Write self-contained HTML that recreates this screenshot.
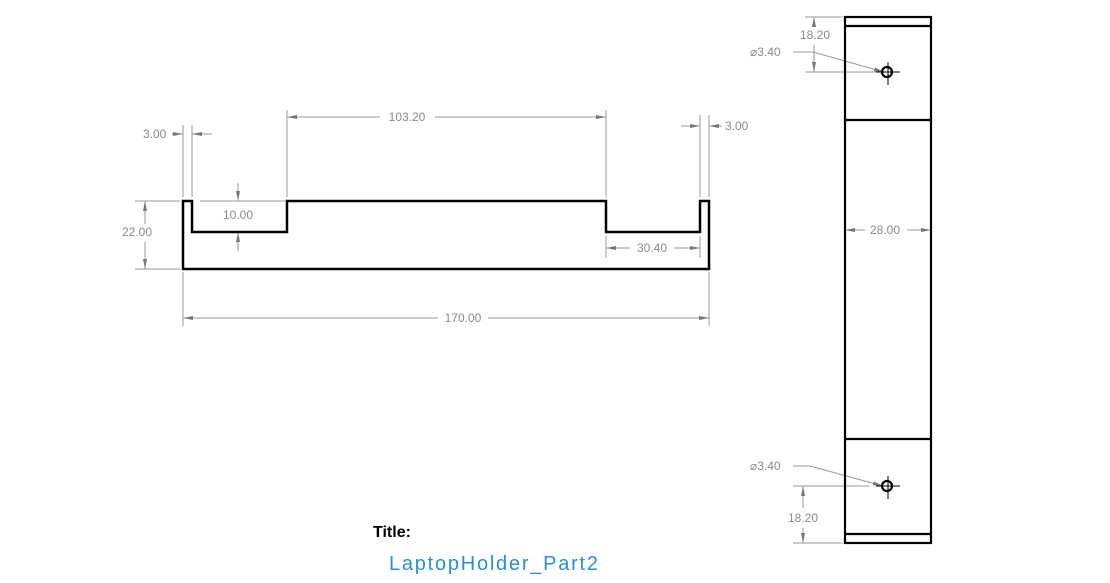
<!DOCTYPE html>
<html><head><meta charset="utf-8"><style>
html,body{margin:0;padding:0;background:#fff;width:1110px;height:583px;overflow:hidden}
svg text{font-family:"Liberation Sans",sans-serif;fill:#8a8a8a;font-size:12px}
</style></head><body>
<svg width="1110" height="583" viewBox="0 0 1110 583" xmlns="http://www.w3.org/2000/svg">
<defs>
<marker id="a" viewBox="0 0 10 6" refX="10" refY="3" markerWidth="10" markerHeight="6" orient="auto" markerUnits="userSpaceOnUse">
<path d="M0,1 L10,3 L0,5 Z" fill="#777"/></marker>
</defs>
<g stroke="#999" stroke-width="1" fill="none">
<!-- 3.00 left -->
<line x1="183" y1="125" x2="183" y2="197"/><line x1="192" y1="125" x2="192" y2="197"/>
<line x1="172" y1="134" x2="183" y2="134" marker-end="url(#a)"/>
<line x1="212" y1="134" x2="192" y2="134" marker-end="url(#a)"/>
<!-- 103.20 -->
<line x1="287" y1="110" x2="287" y2="197"/><line x1="606" y1="110" x2="606" y2="197"/>
<line x1="380" y1="117" x2="287" y2="117" marker-end="url(#a)"/>
<line x1="435" y1="117" x2="606" y2="117" marker-end="url(#a)"/>
<!-- 3.00 right -->
<line x1="700" y1="115" x2="700" y2="197"/><line x1="709" y1="115" x2="709" y2="197"/>
<line x1="681" y1="126" x2="700" y2="126" marker-end="url(#a)"/>
<line x1="722" y1="126" x2="709" y2="126" marker-end="url(#a)"/>
<!-- 10.00 -->
<line x1="200" y1="201" x2="285" y2="201"/>
<line x1="238" y1="183" x2="238" y2="201" marker-end="url(#a)"/>
<line x1="238" y1="251" x2="238" y2="232" marker-end="url(#a)"/>
<!-- 22.00 -->
<line x1="135" y1="201" x2="180" y2="201"/><line x1="135" y1="269" x2="180" y2="269"/>
<line x1="145" y1="224" x2="145" y2="201" marker-end="url(#a)"/>
<line x1="145" y1="242" x2="145" y2="269" marker-end="url(#a)"/>
<!-- 30.40 -->
<line x1="606" y1="236" x2="606" y2="258"/><line x1="700" y1="236" x2="700" y2="258"/>
<line x1="630" y1="248" x2="606" y2="248" marker-end="url(#a)"/>
<line x1="674" y1="248" x2="700" y2="248" marker-end="url(#a)"/>
<!-- 170.00 -->
<line x1="183" y1="272" x2="183" y2="326"/><line x1="709" y1="272" x2="709" y2="326"/>
<line x1="438" y1="318" x2="183" y2="318" marker-end="url(#a)"/>
<line x1="488" y1="318" x2="709" y2="318" marker-end="url(#a)"/>
<!-- 28.00 -->
<line x1="865" y1="230" x2="845" y2="230" marker-end="url(#a)"/>
<line x1="907" y1="230" x2="931" y2="230" marker-end="url(#a)"/>
<!-- 18.20 top -->
<line x1="805" y1="17" x2="843" y2="17"/><line x1="805" y1="72" x2="880" y2="72"/>
<line x1="814" y1="27" x2="814" y2="17" marker-end="url(#a)"/>
<line x1="814" y1="45" x2="814" y2="72" marker-end="url(#a)"/>
<polyline points="793,52 813,52 884,72" marker-end="url(#a)"/>
<!-- bottom -->
<line x1="793" y1="486" x2="870" y2="486"/><line x1="793" y1="543" x2="843" y2="543"/>
<line x1="803" y1="508" x2="803" y2="486" marker-end="url(#a)"/>
<line x1="803" y1="528" x2="803" y2="543" marker-end="url(#a)"/>
<polyline points="793,466 810,466 883,486" marker-end="url(#a)"/>
</g>
<!-- profile -->
<path d="M183,201 L183,269 L709,269 L709,201 L700,201 L700,232 L606,232 L606,201 L287,201 L287,232 L192,232 L192,201 Z" fill="none" stroke="#000" stroke-width="2.5"/>
<!-- side view -->
<g stroke="#000" stroke-width="2.2" fill="none">
<rect x="845" y="17" width="86" height="526"/>
<line x1="845" y1="26" x2="931" y2="26"/><line x1="845" y1="120" x2="931" y2="120"/>
<line x1="845" y1="439" x2="931" y2="439"/><line x1="845" y1="534" x2="931" y2="534"/>
<circle cx="887" cy="72" r="5"/><circle cx="887" cy="486" r="5"/>
</g>
<g stroke="#000" stroke-width="1">
<line x1="876" y1="72" x2="900" y2="72"/><line x1="888" y1="62" x2="888" y2="85"/>
<line x1="876" y1="486" x2="900" y2="486"/><line x1="888" y1="476" x2="888" y2="499"/>
</g>
<g>
<text x="143" y="138">3.00</text>
<text x="407" y="121" text-anchor="middle">103.20</text>
<text x="725" y="130">3.00</text>
<text x="238" y="219" text-anchor="middle">10.00</text>
<text x="137" y="236" text-anchor="middle">22.00</text>
<text x="652" y="252" text-anchor="middle">30.40</text>
<text x="463" y="322" text-anchor="middle">170.00</text>
<text x="885" y="234" text-anchor="middle">28.00</text>
<text x="815" y="39" text-anchor="middle">18.20</text>
<text x="750" y="56">⌀3.40</text>
<text x="750" y="470">⌀3.40</text>
<text x="803" y="522" text-anchor="middle">18.20</text>
</g>
<text x="373" y="537" style="font-size:16px;font-weight:bold;fill:#000">Title:</text>
<text x="389" y="570" textLength="209" style="font-size:20px;fill:#2b8fd6">LaptopHolder_Part2</text>
</svg>
</body></html>
